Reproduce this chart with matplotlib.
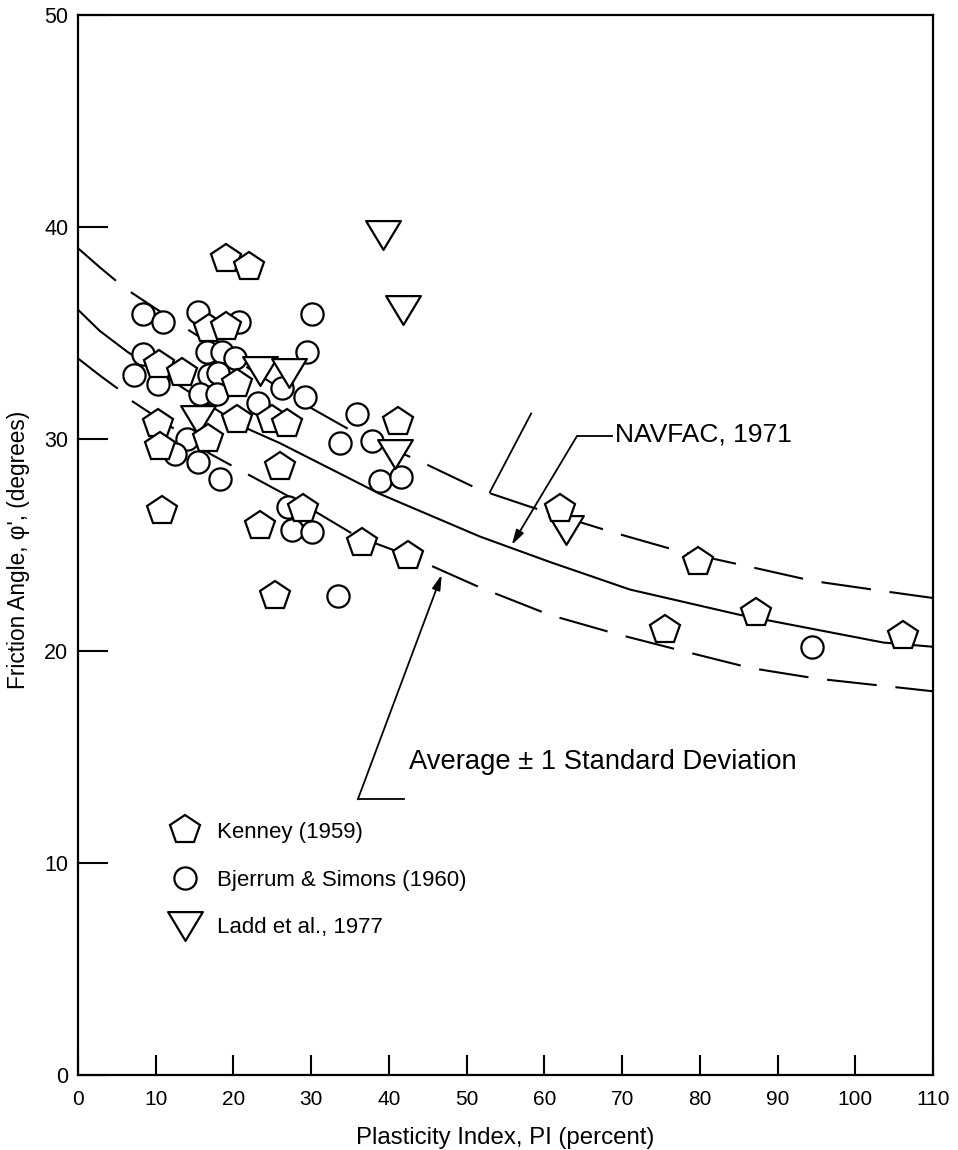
import matplotlib
matplotlib.use('Agg')
import matplotlib.pyplot as plt
from matplotlib.lines import Line2D
from matplotlib.path import Path

plt.rcParams['font.family'] = ['Liberation Sans', 'DejaVu Sans']

# ---- data ----
kenney_pi = [19.0, 22.0, 16.9, 19.0, 10.4, 13.4, 20.5, 10.3, 10.6, 16.7, 20.5, 25.0, 26.9,
             26.0, 10.8, 23.4, 25.3, 29.0, 36.5, 42.5, 41.2, 62.0, 79.8, 87.2, 75.5, 106.1]
kenney_phi = [38.5, 38.1, 35.2, 35.3, 33.5, 33.1, 32.6, 30.7, 29.6, 30.0, 30.9, 30.9, 30.7,
              28.7, 26.6, 25.9, 22.6, 26.7, 25.1, 24.5, 30.8, 26.7, 24.2, 21.8, 21.0, 20.7]

bjerrum_pi = [8.4, 10.9, 15.4, 20.7, 8.4, 7.2, 10.3, 16.6, 18.5, 20.2, 16.9, 18.0, 15.7, 17.9,
              26.2, 23.2, 29.5, 30.1, 29.2, 35.9, 33.7, 37.8, 38.9, 41.6, 14.0, 12.5, 15.4,
              18.3, 27.0, 27.5, 30.1, 33.5, 94.4]
bjerrum_phi = [35.9, 35.5, 36.0, 35.5, 34.0, 33.0, 32.6, 34.1, 34.1, 33.8, 33.0, 33.1, 32.1, 32.1,
               32.4, 31.7, 34.1, 35.9, 32.0, 31.2, 29.8, 29.9, 28.0, 28.2, 30.0, 29.3, 28.9,
               28.1, 26.8, 25.7, 25.6, 22.6, 20.2]

ladd_pi = [39.2, 41.8, 23.4, 27.2, 15.4, 40.8, 62.8]
ladd_phi = [39.6, 36.1, 33.2, 33.1, 30.9, 29.3, 25.7]

avg_pi = [0, 2.8, 6.4, 21.1, 26.0, 38.9, 51.7, 60.7, 71.0, 85.2, 103.6, 110]
avg_phi = [36.1, 35.1, 34.1, 30.6, 29.8, 27.4, 25.4, 24.2, 22.9, 21.7, 20.4, 20.2]

upper_pi = [0, 2.8, 5.1, 6.9, 12.7, 29.8, 35.6, 43.7, 51.7, 58.2, 68.8, 77.4, 86.1, 94.6, 104.1, 110]
upper_phi = [39.0, 38.1, 37.4, 36.9, 35.5, 31.5, 30.3, 29.0, 27.6, 26.8, 25.6, 24.7, 24.0, 23.3, 22.8, 22.5]

lower_pi = [0, 2.8, 5.4, 6.9, 12.7, 17.0, 20.5, 28.6, 35.9, 42.5, 51.7, 60.7, 69.3, 77.8, 86.5, 95.0, 110]
lower_phi = [33.8, 33.0, 32.3, 31.8, 30.4, 29.3, 28.6, 27.0, 25.4, 24.5, 23.0, 21.7, 20.8, 20.0, 19.2, 18.7, 18.1]

x_ticks = [0, 10, 20, 30, 40, 50, 60, 70, 80, 90, 100, 110]
y_ticks = [0, 10, 20, 30, 40, 50]

# ---- figure ----
fig = plt.figure(figsize=(9.58, 11.5), dpi=100)
ax = fig.add_axes([78/958, 1-1075/1150, 855/958, 1060/1150])
ax.set_xlim(0, 110)
ax.set_ylim(0, 50)

lw = 1.5
ax.plot(avg_pi, avg_phi, color='black', lw=lw, zorder=2)
ax.plot(upper_pi, upper_phi, color='black', lw=lw, ls=(0, (24, 9)), zorder=2)
ax.plot(lower_pi, lower_phi, color='black', lw=lw, ls=(0, (24, 9)), zorder=2)

tri = Path([(-1, 0.83), (1, 0.83), (0, -0.83), (-1, 0.83)],
           [Path.MOVETO, Path.LINETO, Path.LINETO, Path.CLOSEPOLY])
mk = dict(ls='none', mfc='white', mec='black', mew=1.6)
ax.plot(bjerrum_pi, bjerrum_phi, marker='o', ms=16, zorder=3, **mk)
ax.plot(ladd_pi, ladd_phi, marker=tri, ms=25, zorder=4, **mk)
ax.plot(kenney_pi, kenney_phi, marker='p', ms=22, zorder=5, **mk)

# annotations
ax.plot([58.3, 53.0], [31.2, 27.5], color='black', lw=1.3, zorder=2)
ax.plot([64.2, 68.7], [30.14, 30.14], color='black', lw=1.3, zorder=2)
ax.annotate('', xy=(55.8, 25.0), xytext=(64.2, 30.14),
            arrowprops=dict(arrowstyle='-|>,head_length=0.9,head_width=0.25',
                            color='black', lw=1.3, shrinkA=0, shrinkB=0))
ax.text(69.1, 29.86, 'NAVFAC, 1971', fontsize=19, va='baseline', ha='left')

ax.plot([36.0, 42.0], [13.0, 13.0], color='black', lw=1.3, zorder=2)
ax.annotate('', xy=(46.8, 23.6), xytext=(36.0, 13.0),
            arrowprops=dict(arrowstyle='-|>,head_length=0.9,head_width=0.25',
                            color='black', lw=1.3, shrinkA=0, shrinkB=0))
ax.text(42.6, 14.45, 'Average ± 1 Standard Deviation', fontsize=19.7, va='baseline', ha='left')

# legend
handles = [
    Line2D([], [], marker='p', ms=22, **mk),
    Line2D([], [], marker='o', ms=16, **mk),
    Line2D([], [], marker=tri, ms=25, **mk),
]
labels = ['Kenney (1959)', 'Bjerrum & Simons (1960)', 'Ladd et al., 1977']
ax.legend(handles, labels, loc='upper left', bbox_to_anchor=(91/855, 1-(822-15)/1060),
          frameon=False, fontsize=16, handlelength=1.4, handletextpad=0.75,
          labelspacing=1.2, borderpad=0, borderaxespad=0)

# axes styling
for s in ax.spines.values():
    s.set_linewidth(1.6)
ax.set_xticks(x_ticks)
ax.set_yticks(y_ticks)
ax.tick_params(axis='x', direction='in', length=14.5, width=1.5, pad=11, labelsize=15)
ax.tick_params(axis='y', direction='in', length=21.5, width=1.5, pad=7, labelsize=15.5)
ax.set_xlabel('Plasticity Index, PI (percent)', fontsize=17.3)
ax.set_ylabel("Friction Angle, φ', (degrees)", fontsize=16.3)
ax.yaxis.set_label_coords(-0.056, 0.495)
ax.xaxis.set_label_coords(0.5, -0.049)

fig.savefig('out.png', dpi=100)
